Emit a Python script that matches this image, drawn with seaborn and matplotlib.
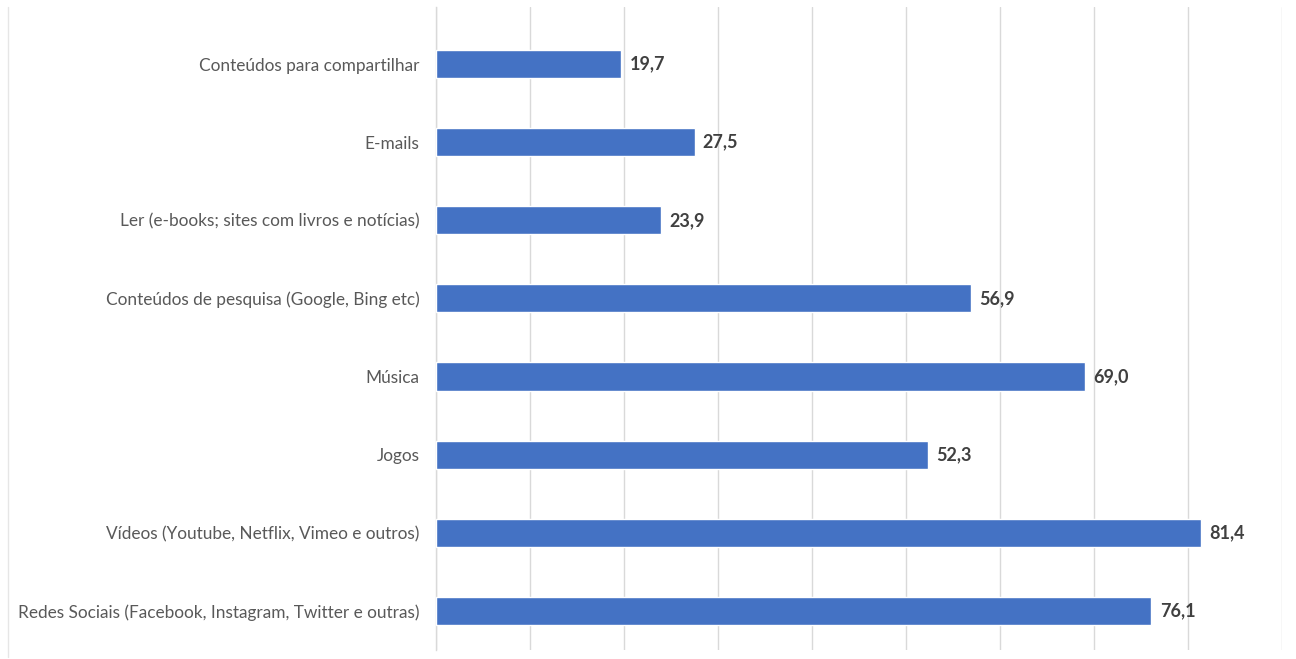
import matplotlib
matplotlib.use("Agg")
import matplotlib.pyplot as plt
import seaborn as sns
import pandas as pd
from matplotlib.lines import Line2D

categorias = [
    "Conteúdos para compartilhar",
    "E-mails",
    "Ler (e-books; sites com livros e notícias)",
    "Conteúdos de pesquisa (Google, Bing etc)",
    "Música",
    "Jogos",
    "Vídeos (Youtube, Netflix, Vimeo e outros)",
    "Redes Sociais (Facebook, Instagram, Twitter e outras)",
]
valores = [19.7, 27.5, 23.9, 56.9, 69.0, 52.3, 81.4, 76.1]
x_ticks = list(range(0, 91, 10))

df = pd.DataFrame({"categoria": categorias, "valor": valores})

sns.set_style("white")
plt.rcParams["font.family"] = ["Lato", "DejaVu Sans"]

fig = plt.figure(figsize=(12.96, 6.59), dpi=100)
ax = fig.add_axes([436 / 1296, 1 - 650 / 659, (1282 - 436) / 1296, (650 - 7) / 659])

sns.barplot(data=df, x="valor", y="categoria", color="#4472C4", width=0.36,
            saturation=1, ax=ax, zorder=3)

ax.set_xlim(0, 90)
ax.set_ylim(len(categorias) - 0.5, -0.73)
ax.set_xticks(x_ticks)
ax.set_xticklabels([])
ax.tick_params(axis="x", length=0)
ax.tick_params(axis="y", length=0, pad=12, labelsize=12.4, labelcolor="#595959")
ax.grid(axis="x", color="#D9D9D9", linewidth=1, zorder=0)
ax.set_xlabel("")
ax.set_ylabel("")
for side in ["top", "right", "bottom"]:
    ax.spines[side].set_visible(False)
ax.spines["left"].set_color("#D9D9D9")
ax.spines["left"].set_linewidth(1)

for i, v in enumerate(valores):
    ax.annotate(f"{v:.1f}".replace(".", ","), xy=(v, i), xytext=(6, 0),
                textcoords="offset points", va="center", ha="left",
                fontsize=13, fontweight="bold", color="#404040")

# faint chart frame on the left
fig.add_artist(Line2D([8 / 1296, 8 / 1296], [1 - 657 / 659, 1 - 7 / 659],
                      transform=fig.transFigure, color="#E6E6E6", linewidth=1))

fig.savefig("out.png", dpi=100, facecolor="white")
